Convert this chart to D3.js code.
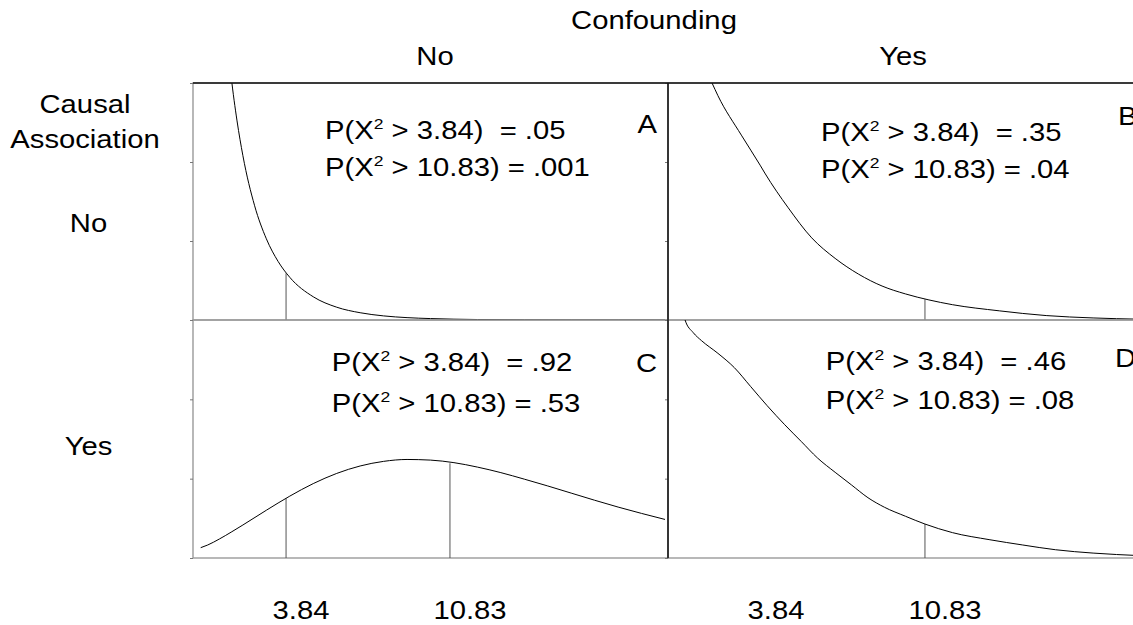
<!DOCTYPE html>
<html><head><meta charset="utf-8">
<script src="https://cdn.jsdelivr.net/npm/d3@7"></script>
<style>
body{margin:0;background:#fff}
text{font-family:"Liberation Sans",Arial,Helvetica,sans-serif;fill:#000;white-space:pre}
</style>
</head><body>
<svg id="chart" width="1133" height="625"></svg>
<script>
// ---------- data ----------
const colTitle = "Confounding";
const rowTitle = ["Causal", "Association"];
const colCategories = ["No", "Yes"];
const rowCategories = ["No", "Yes"];
const criticalValues = [3.84, 10.83];
const xTickLabels = ["3.84", "10.83"];
const yTickValues = [0, 0.05, 0.10, 0.15];
const panelLetters = ["A", "B", "C", "D"];
const prob384 = [".05", ".35", ".92", ".46"];
const prob1083 = [".001", ".04", ".53", ".08"];

// Panel A: no confounding, no causal association
const xA = [1.0, 1.25, 1.5, 1.75, 2, 2.5, 3, 3.5, 4, 5, 6, 7, 8, 9, 10, 12, 14, 16, 18, 20];
const densA = [0.242, 0.191, 0.154, 0.126, 0.104, 0.0723, 0.0514, 0.0371, 0.0270, 0.0147, 0.0081, 0.0046, 0.0026, 0.0015, 0.0009, 0.0003, 0.0001, 0.00003, 0.00001, 0.0];
// Panel B: confounding, no causal association
const xB = [1.0, 1.5, 1.75, 2, 3, 3.8, 4, 5, 6, 7, 8, 9, 10, 11, 12, 14, 16, 18, 20];
const densB = [0.180, 0.158, 0.150, 0.142, 0.117, 0.098, 0.093, 0.071, 0.052, 0.039, 0.029, 0.0215, 0.0165, 0.0127, 0.0097, 0.0058, 0.0028, 0.0013, 0.0005];
// Panel C: no confounding, causal association
const xC = [0.2, 0.5, 1, 1.5, 2, 3, 4, 5, 6, 7, 8, 9, 10, 11, 12, 13, 14, 15, 16, 17, 18, 19, 20];
const densC = [0.0065, 0.0082, 0.0120, 0.0163, 0.0208, 0.0301, 0.0390, 0.0469, 0.0533, 0.0580, 0.0609, 0.0621, 0.0617, 0.0601, 0.0573, 0.0538, 0.0497, 0.0454, 0.0409, 0.0364, 0.0321, 0.0281, 0.0243];
// Panel D: confounding and causal association
const xD = [0.3, 0.6, 0.95, 1.3, 2, 2.7, 3.4, 4.1, 4.85, 5.55, 6.25, 7, 7.7, 8.4, 9.1, 10, 10.83, 12, 13.6, 15, 16.4, 18, 20];
const densD = [0.175, 0.150, 0.142, 0.137, 0.129, 0.120, 0.108, 0.096, 0.084, 0.0735, 0.063, 0.054, 0.046, 0.038, 0.032, 0.0263, 0.0214, 0.016, 0.0115, 0.0082, 0.0052, 0.0031, 0.0015];

// critical-value markers drawn in each panel (x, density at x)
const cutXA = [3.84], cutYA = [0.0296];
const cutXB = [10.83], cutYB = [0.0131];
const cutXC = [3.84, 10.83], cutYC = [0.0376, 0.0597];
const cutXD = [10.83], cutYD = [0.0214];

// ---------- layout ----------
const W = 1133, H = 625;
const SX = 1.17;             // horizontal stretch of the lettering
const FS = 25;
const colLeft = [193, 668], panelW = 475;
const rowTop = [83, 320], rowH = [237, 238];
const xPad = [3, 472];
// per panel: text x offset, baselines, letter x offset (anchor), letter baseline, anchor
const textLayout = [
  {tx: 132, b1: 56, b2: 93, lx: 464, lb: 50, la: "end"},
  {tx: 153, b1: 57.5, b2: 95, lx: 450, lb: 42, la: "start"},
  {tx: 138.7, b1: 51, b2: 91.5, lx: 464, lb: 51.7, la: "end"},
  {tx: 157.7, b1: 49.5, b2: 89, lx: 447, lb: 47, la: "start"}
];

const panels = [
  {row: 0, col: 0, xs: xA, ys: densA, cx: cutXA, cy: cutYA},
  {row: 0, col: 1, xs: xB, ys: densB, cx: cutXB, cy: cutYB},
  {row: 1, col: 0, xs: xC, ys: densC, cx: cutXC, cy: cutYC},
  {row: 1, col: 1, xs: xD, ys: densD, cx: cutXD, cy: cutYD}
];

const svg = d3.select("#chart");
svg.append("rect").attr("width", W).attr("height", H).attr("fill", "#fff");
const defs = svg.append("defs");

function stretchedText(parent, str, x, y, anchor) {
  return parent.append("text")
    .attr("transform", `translate(${x},${y}) scale(${SX},1)`)
    .attr("text-anchor", anchor)
    .style("font-size", FS + "px")
    .text(str);
}

panels.forEach((p, i) => {
  const left = colLeft[p.col], top = rowTop[p.row], h = rowH[p.row];
  const x = d3.scaleLinear().domain([0, 20]).range([left + xPad[0], left + xPad[1]]);
  const y = d3.scaleLinear().domain([0, 0.15]).range([top + h, top]);
  const g = svg.append("g");

  defs.append("clipPath").attr("id", "clip" + i)
    .append("rect").attr("x", left).attr("y", top).attr("width", panelW).attr("height", h);

  // frame
  g.append("rect").attr("x", left).attr("y", top).attr("width", panelW).attr("height", h)
    .attr("fill", "none").attr("stroke", "#9a9a9a").attr("stroke-width", 1.4);

  // y ticks (no labels)
  const ax = g.append("g").attr("transform", `translate(${left},0)`)
    .call(d3.axisLeft(y).tickValues(yTickValues).tickSize(3).tickFormat(""));
  ax.select(".domain").remove();
  ax.selectAll(".tick line").attr("stroke", "#777");

  const inner = g.append("g").attr("clip-path", `url(#clip${i})`);

  // critical value markers
  inner.selectAll("line.cut").data(p.cx.map((v, k) => [v, p.cy[k]])).join("line")
    .attr("class", "cut")
    .attr("x1", d => x(d[0])).attr("x2", d => x(d[0]))
    .attr("y1", y(0)).attr("y2", d => y(d[1]))
    .attr("stroke", "#555").attr("stroke-width", 1);

  // density curve
  const line = d3.line().x(d => x(d[0])).y(d => y(d[1])).curve(d3.curveMonotoneX);
  inner.append("path").datum(p.xs.map((v, k) => [v, p.ys[k]]))
    .attr("d", line).attr("fill", "none").attr("stroke", "#000").attr("stroke-width", 1);

  // annotations
  const L = textLayout[i];
  [[criticalValues[0], prob384[i], L.b1, "  "], [criticalValues[1], prob1083[i], L.b2, " "]].forEach(([cv, pr, b, gap]) => {
    const t = g.append("text")
      .attr("transform", `translate(${left + L.tx},${top + b}) scale(${SX},1)`)
      .style("font-size", FS + "px");
    t.append("tspan").text("P(X");
    t.append("tspan").attr("dy", -10).style("font-size", "15px").text("2");
    t.append("tspan").attr("dy", 10).text(" > " + d3.format(".2f")(cv) + ")" + gap + "= " + pr);
  });
  stretchedText(g, panelLetters[i], left + L.lx, top + L.lb, L.la);

  // bottom labels under the lower row
  if (p.row === 1) {
    const offs = [15, 20];
    criticalValues.forEach((cv, k) => {
      stretchedText(svg, xTickLabels[k], x(cv) + offs[k], 618.5, "middle");
    });
  }
});

// dark outer top line and central divider
svg.append("line").attr("x1", colLeft[0]).attr("x2", W).attr("y1", rowTop[0]).attr("y2", rowTop[0])
  .attr("stroke", "#111").attr("stroke-width", 1.5);
svg.append("line").attr("x1", colLeft[1]).attr("x2", colLeft[1]).attr("y1", rowTop[0]).attr("y2", rowTop[1] + rowH[1])
  .attr("stroke", "#111").attr("stroke-width", 1.5);

// headers
stretchedText(svg, colTitle, 654, 29, "middle");
const colCenters = [435, 903];
colCategories.forEach((c, k) => stretchedText(svg, c, colCenters[k], 65, "middle"));
stretchedText(svg, rowTitle[0], 85, 113, "middle");
stretchedText(svg, rowTitle[1], 85, 148, "middle");
const rowBase = [231.5, 455];
rowCategories.forEach((c, k) => stretchedText(svg, c, 88.5, rowBase[k], "middle"));
</script>
</body></html>
